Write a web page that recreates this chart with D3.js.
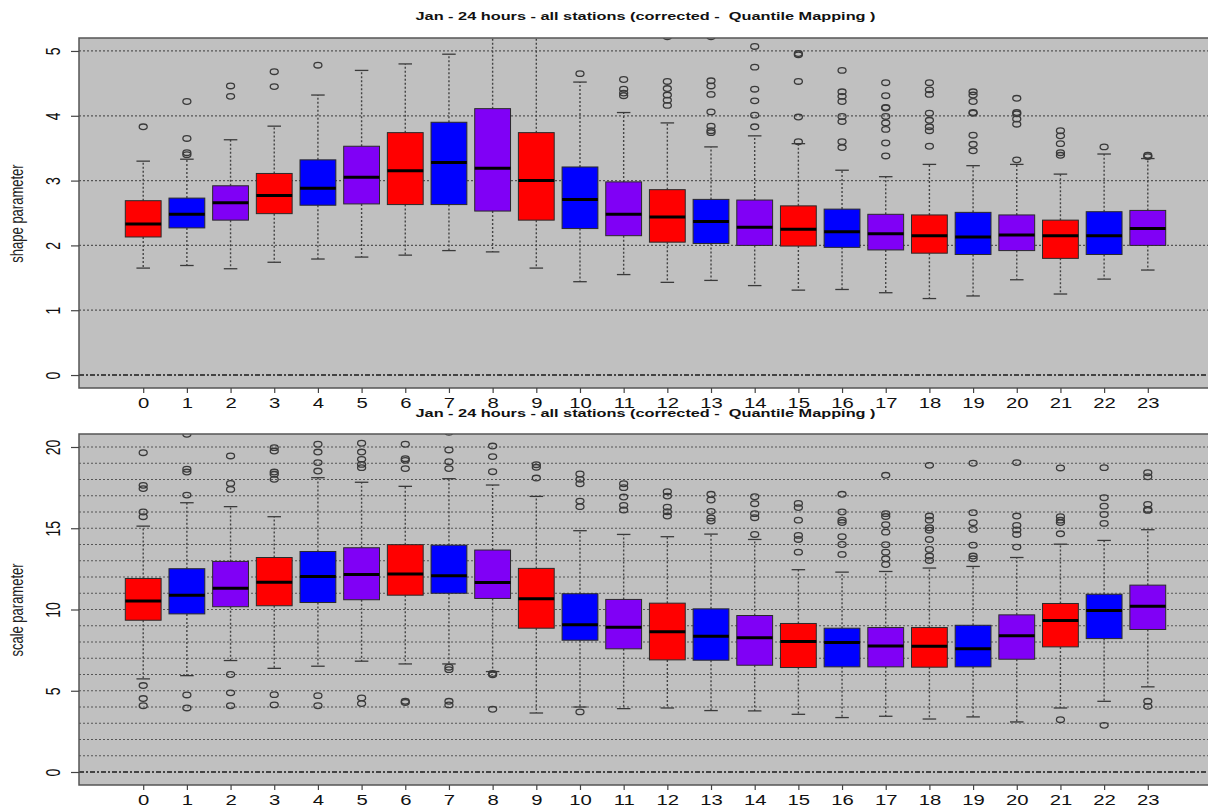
<!DOCTYPE html>
<html>
<head>
<meta charset="utf-8">
<script src="https://cdn.jsdelivr.net/npm/d3@7"></script>
<style>
  body { margin: 0; background: #ffffff; }
  svg { display: block; }
  text { font-family: "Liberation Sans", Arial, Helvetica, sans-serif; }
  .title { white-space: pre; }
</style>
</head>
<body>
<svg id="chart" width="1208" height="809"></svg>
<script>
// ---- categories and labels ----
const hours = [0,1,2,3,4,5,6,7,8,9,10,11,12,13,14,15,16,17,18,19,20,21,22,23];
const boxFills = ["#ff0000", "#0000ff", "#8000f6"];
const titleText = "Jan - 24 hours - all stations (corrected -  Quantile Mapping )";
const shapeLabel = "shape parameter";
const scaleLabel = "scale parameter";
const shapeTicks = [0, 1, 2, 3, 4, 5];
const shapeGrid = [1, 2, 3, 4, 5];
const scaleTicks = [0, 5, 10, 15, 20];
const scaleGrid = [1,2,3,4,5,6,7,8,9,10,11,12,13,14,15,16,17,18,19,20];

// ---- shape parameter statistics per hour ----
const shapeLow  = [1.65,1.69,1.64,1.74,1.79,1.82,1.85,1.92,1.90,1.65,1.44,1.55,1.43,1.46,1.38,1.31,1.32,1.27,1.18,1.22,1.47,1.25,1.48,1.62];
const shapeQ1   = [2.13,2.27,2.39,2.49,2.62,2.64,2.63,2.63,2.53,2.39,2.26,2.15,2.05,2.03,2.00,1.99,1.97,1.93,1.88,1.86,1.92,1.80,1.86,2.00];
const shapeMed  = [2.33,2.48,2.66,2.77,2.88,3.05,3.15,3.28,3.19,3.00,2.71,2.48,2.44,2.37,2.28,2.25,2.21,2.18,2.15,2.13,2.16,2.15,2.15,2.26];
const shapeQ3   = [2.69,2.73,2.92,3.11,3.32,3.53,3.74,3.90,4.11,3.74,3.21,2.98,2.86,2.71,2.70,2.61,2.56,2.48,2.47,2.51,2.47,2.39,2.52,2.54];
const shapeHigh = [3.30,3.33,3.63,3.84,4.32,4.70,4.80,4.95,5.60,5.50,4.52,4.05,3.89,3.52,3.69,3.57,3.16,3.06,3.25,3.23,3.25,3.10,3.41,3.34];
const shapeOut = [
  [3.83],
  [4.22,3.65,3.43,3.40],
  [4.46,4.30],
  [4.68,4.45],
  [4.78],
  [], [], [], [], [],
  [4.65],
  [4.56,4.41,4.35,4.31],
  [5.22,4.53,4.42,4.32,4.24,4.16],
  [5.22,4.54,4.46,4.33,4.06,3.84,3.77,3.74],
  [5.07,4.75,4.41,4.23,4.01,3.83],
  [4.96,4.94,4.53,3.98,3.60],
  [4.70,4.37,4.30,4.22,3.99,3.91,3.60,3.51],
  [4.51,4.31,4.13,4.12,3.99,3.89,3.79,3.58,3.38],
  [4.51,4.40,4.33,4.04,3.93,3.83,3.77,3.53],
  [4.37,4.32,4.22,4.05,4.04,3.70,3.56,3.46],
  [4.27,4.05,4.03,3.95,3.87,3.32],
  [3.77,3.69,3.57,3.43,3.39],
  [3.52],
  [3.39,3.37]
];

// ---- scale parameter statistics per hour ----
const scaleLow  = [5.73,5.93,6.86,6.38,6.51,6.82,6.65,6.65,6.18,3.63,4.00,3.90,3.94,3.78,3.76,3.55,3.35,3.43,3.26,3.39,3.08,3.94,4.35,5.24];
const scaleQ1   = [9.34,9.73,10.17,10.23,10.43,10.60,10.88,11.00,10.68,8.85,8.11,7.58,6.90,6.88,6.57,6.43,6.47,6.47,6.45,6.47,6.94,7.70,8.21,8.77];
const scaleMed  = [10.53,10.88,11.31,11.68,12.03,12.16,12.19,12.08,11.66,10.66,9.06,8.91,8.63,8.36,8.26,8.03,7.97,7.76,7.74,7.58,8.38,9.32,9.94,10.20];
const scaleQ3   = [11.91,12.51,12.96,13.20,13.57,13.80,13.99,13.96,13.66,12.53,10.97,10.62,10.39,10.04,9.63,9.14,8.85,8.89,8.89,9.03,9.67,10.37,10.94,11.50];
const scaleHigh = [15.13,16.57,16.33,15.71,18.11,17.83,17.58,18.05,17.66,16.96,14.85,14.62,14.48,14.64,14.31,12.45,12.30,12.34,12.55,12.65,13.20,14.02,14.25,14.91];
const scaleOut = [
  [19.65,17.64,17.44,16.00,15.71,5.32,4.52,4.08],
  [20.78,18.63,18.46,17.04,4.74,3.94],
  [19.45,17.76,17.39,6.00,4.87,4.08],
  [19.96,19.75,18.46,18.32,18.01,4.76,4.13],
  [20.17,19.69,19.04,18.52,4.70,4.08],
  [20.23,19.69,19.24,18.93,18.73,4.56,4.21],
  [20.17,19.28,19.18,18.67,4.35,4.28],
  [20.90,19.82,19.10,18.67,6.45,6.30,4.35,4.13],
  [20.06,19.41,18.48,6.06,5.98,3.86],
  [18.91,18.75,18.09],
  [18.34,18.01,17.74,16.67,16.33,3.70],
  [17.74,17.50,16.92,16.41,16.12],
  [17.25,16.98,16.30,16.02,15.75],
  [17.09,16.74,16.04,15.63,15.44],
  [16.94,16.51,15.90,15.65,14.62],
  [16.53,16.27,15.50,14.56,14.31,13.53],
  [17.09,16.00,15.50,15.35,14.48,14.00,13.39],
  [18.26,15.90,15.72,15.22,14.76,13.99,13.53,13.12,12.77],
  [18.87,15.75,15.50,15.03,14.88,14.31,13.70,13.29,13.02],
  [19.00,15.96,15.34,14.93,13.96,13.29,13.12],
  [19.04,15.75,15.18,14.90,14.62,13.84],
  [18.71,15.71,15.50,15.35,14.66,3.22],
  [18.73,16.88,16.36,15.85,15.30,2.87],
  [18.42,18.17,16.47,16.16,16.10,4.35,4.04]
];

// ---- drawing ----
const svg = d3.select("#chart");
const STRETCH = 1.45;          // horizontal glyph stretch of the device
const plotLeft = 79, plotRight = 1212;
const x = d3.scaleLinear().domain([-1.47, 24.47]).range([plotLeft, plotRight]);
const boxHalf = 0.41, capHalf = 0.155;

function drawPanel(p) {
  const g = svg.append("g");
  const y = d3.scaleLinear().domain(p.yDomain).range([p.bottom, p.top]);
  const clipId = "clip-" + p.id;

  g.append("clipPath").attr("id", clipId)
    .append("rect").attr("x", plotLeft).attr("y", p.top)
    .attr("width", plotRight - plotLeft).attr("height", p.bottom - p.top);

  // panel background
  g.append("rect").attr("x", plotLeft).attr("y", p.top)
    .attr("width", plotRight - plotLeft).attr("height", p.bottom - p.top)
    .attr("fill", "#c0c0c0");

  const body = g.append("g").attr("clip-path", `url(#${clipId})`);

  // horizontal dotted grid
  body.selectAll("line.grid").data(p.grid).join("line")
    .attr("class", "grid")
    .attr("x1", plotLeft).attr("x2", plotRight)
    .attr("y1", d => y(d)).attr("y2", d => y(d))
    .attr("stroke", "#555555").attr("stroke-width", 1.2)
    .attr("stroke-dasharray", "2,2");

  // zero reference line
  body.append("line")
    .attr("x1", plotLeft).attr("x2", plotRight)
    .attr("y1", y(0)).attr("y2", y(0))
    .attr("stroke", "#1a1a1a").attr("stroke-width", 1.6)
    .attr("stroke-dasharray", "5,2,2,2");

  const rows = hours.map((h, i) => ({
    h, i, low: p.low[i], q1: p.q1[i], med: p.med[i], q3: p.q3[i], high: p.high[i], out: p.out[i]
  }));

  // whiskers (dashed)
  body.selectAll("line.wl").data(rows).join("line").attr("class", "wl")
    .attr("x1", d => x(d.h)).attr("x2", d => x(d.h))
    .attr("y1", d => y(d.q1)).attr("y2", d => y(d.low))
    .attr("stroke", "#444444").attr("stroke-width", 1.4).attr("stroke-dasharray", "2,2");
  body.selectAll("line.wh").data(rows).join("line").attr("class", "wh")
    .attr("x1", d => x(d.h)).attr("x2", d => x(d.h))
    .attr("y1", d => y(d.q3)).attr("y2", d => y(d.high))
    .attr("stroke", "#444444").attr("stroke-width", 1.4).attr("stroke-dasharray", "2,2");

  // whisker caps
  const caps = rows.flatMap(d => [{h: d.h, v: d.low}, {h: d.h, v: d.high}]);
  body.selectAll("line.cap").data(caps).join("line").attr("class", "cap")
    .attr("x1", d => x(d.h - capHalf)).attr("x2", d => x(d.h + capHalf))
    .attr("y1", d => y(d.v)).attr("y2", d => y(d.v))
    .attr("stroke", "#3a3a3a").attr("stroke-width", 1.3);

  // boxes
  body.selectAll("rect.box").data(rows).join("rect").attr("class", "box")
    .attr("x", d => x(d.h - boxHalf))
    .attr("width", d => x(d.h + boxHalf) - x(d.h - boxHalf))
    .attr("y", d => y(d.q3))
    .attr("height", d => y(d.q1) - y(d.q3))
    .attr("fill", d => boxFills[d.i % 3])
    .attr("stroke", "#2a2a2a").attr("stroke-width", 1);

  // medians
  body.selectAll("line.med").data(rows).join("line").attr("class", "med")
    .attr("x1", d => x(d.h - boxHalf)).attr("x2", d => x(d.h + boxHalf))
    .attr("y1", d => y(d.med)).attr("y2", d => y(d.med))
    .attr("stroke", "#000000").attr("stroke-width", 3);

  // outliers
  const outs = rows.flatMap(d => d.out.map(v => ({h: d.h, v})));
  body.selectAll("ellipse.out").data(outs).join("ellipse").attr("class", "out")
    .attr("cx", d => x(d.h)).attr("cy", d => y(d.v))
    .attr("rx", 4).attr("ry", 2.8)
    .attr("fill", "none").attr("stroke", "#3a3a3a").attr("stroke-width", 1.3);

  // panel border
  g.append("rect").attr("x", plotLeft).attr("y", p.top)
    .attr("width", plotRight - plotLeft).attr("height", p.bottom - p.top)
    .attr("fill", "none").attr("stroke", "#555555").attr("stroke-width", 1.5);

  // x axis
  g.append("g").attr("transform", `translate(0,${p.bottom})`)
    .call(d3.axisBottom(x).tickValues(hours).tickSize(5).tickFormat(d3.format("d")))
    .attr("font-size", 14).attr("font-family", null)
    .call(a => a.select(".domain").remove())
    .call(a => a.selectAll(".tick line").attr("stroke", "#444").attr("stroke-width", 1.2))
    .call(a => a.selectAll(".tick text")
      .attr("y", 0).attr("dy", 0).attr("fill", "#111")
      .attr("transform", `translate(0,20) scale(${STRETCH},1)`));

  // y axis; labels run parallel to the axis
  const yAxisG = g.append("g").attr("transform", `translate(${plotLeft},0)`)
    .call(d3.axisLeft(y).tickValues(p.ticks).tickSize(8).tickFormat(""))
    .attr("font-size", 14).attr("font-family", null)
    .call(a => a.select(".domain").remove())
    .call(a => a.selectAll(".tick line").attr("stroke", "#444").attr("stroke-width", 1.2));
  yAxisG.selectAll(".tick").append("text")
    .attr("class", "ylab")
    .attr("text-anchor", "middle").attr("fill", "#111")
    .attr("transform", `translate(-19,0) scale(${STRETCH},1) rotate(-90)`)
    .text(d => d3.format("d")(d));

  // y axis title
  g.append("text")
    .attr("transform", `translate(23,${(p.top + p.bottom) / 2 + 0.5}) scale(${STRETCH},1) rotate(-90)`)
    .attr("text-anchor", "middle").attr("font-size", 13).attr("fill", "#222")
    .text(p.label);

  // panel title
  g.append("text").attr("class", "title")
    .attr("x", (plotLeft + plotRight) / 2).attr("y", p.titleY)
    .attr("text-anchor", "middle").attr("font-size", 11.5).attr("font-weight", "bold")
    .attr("fill", "#111")
    .attr("textLength", 460).attr("lengthAdjust", "spacingAndGlyphs")
    .text(titleText);
}

drawPanel({
  id: "shape", top: 38, bottom: 388, yDomain: [-0.2, 5.2], titleY: 20,
  ticks: shapeTicks, grid: shapeGrid, label: shapeLabel,
  low: shapeLow, q1: shapeQ1, med: shapeMed, q3: shapeQ3, high: shapeHigh, out: shapeOut
});

drawPanel({
  id: "scale", top: 434, bottom: 785, yDomain: [-0.8, 20.8], titleY: 416.5,
  ticks: scaleTicks, grid: scaleGrid, label: scaleLabel,
  low: scaleLow, q1: scaleQ1, med: scaleMed, q3: scaleQ3, high: scaleHigh, out: scaleOut
});
</script>
</body>
</html>
